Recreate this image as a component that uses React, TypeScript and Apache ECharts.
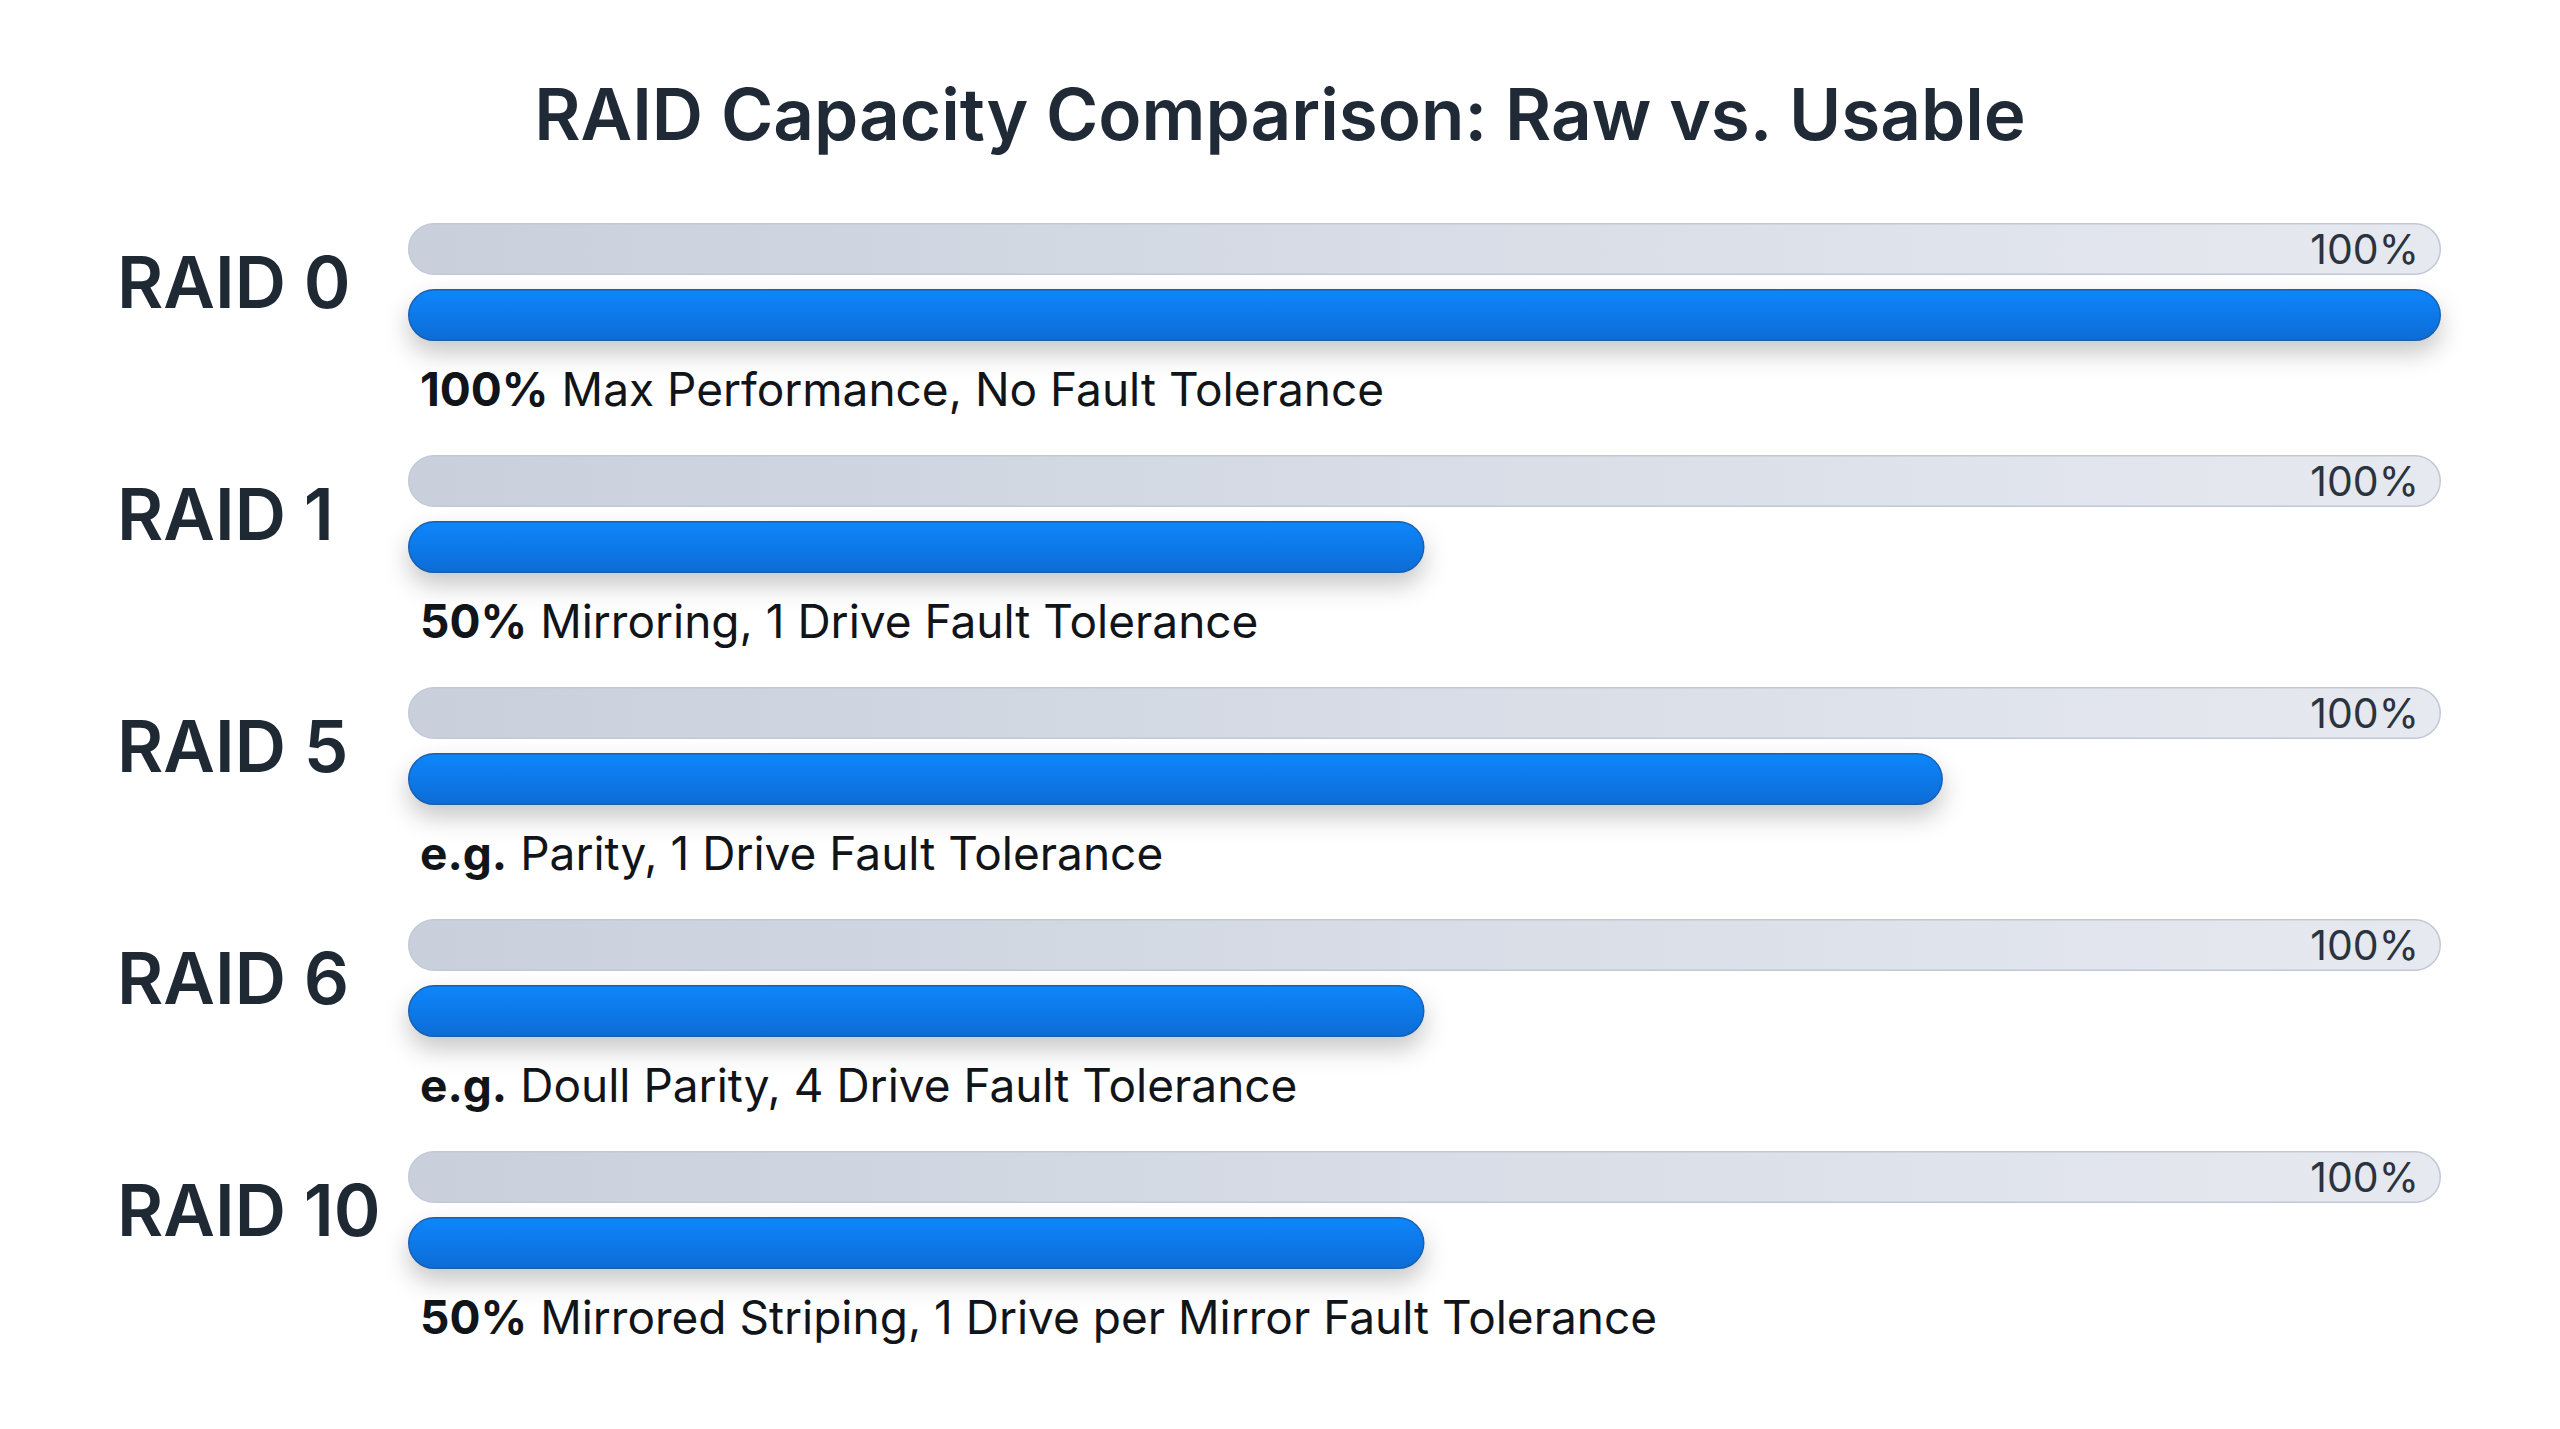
import React, { useEffect, useRef } from "react";
import * as echarts from "echarts";

const categories = ["RAID 0", "RAID 1", "RAID 5", "RAID 6", "RAID 10"];
const rawCapacity = [100, 100, 100, 100, 100];
const usableCapacity = [100, 50, 75.5, 50, 50];
const noteLead = ["100%", "50%", "e.g.", "e.g.", "50%"];
const noteText = [
  "Max Performance, No Fault Tolerance",
  "Mirroring, 1 Drive Fault Tolerance",
  "Parity, 1 Drive Fault Tolerance",
  "Doull Parity, 4 Drive Fault Tolerance",
  "Mirrored Striping, 1 Drive per Mirror Fault Tolerance",
];
const titleText = "RAID Capacity Comparison: Raw vs. Usable";

const FONT = "Inter, 'Noto Sans', sans-serif";

export default function App() {
  const ref = useRef<HTMLDivElement>(null);
  useEffect(() => {
    document.body.style.margin = "0";
    document.body.style.overflow = "hidden";
    if (!ref.current) return;
    const chart = echarts.init(ref.current, undefined, { renderer: "svg" });
    chart.setOption({
      animation: false,
      backgroundColor: "#ffffff",
      title: {
        text: titleText,
        left: "center",
        top: 66,
        textStyle: {
          fontFamily: FONT,
          fontSize: 71,
          fontWeight: 600,
          color: "#1f2a36",
          lineHeight: 86,
        },
      },
      grid: { left: 408, right: 119, top: 166, height: 1160 },
      xAxis: { type: "value", min: 0, max: 100, show: false },
      yAxis: {
        type: "category",
        data: categories,
        inverse: true,
        axisLine: { show: false },
        axisTick: { show: false },
        splitLine: { show: false },
        axisLabel: {
          align: "left",
          margin: 291,
          fontFamily: FONT,
          fontSize: 71,
          fontWeight: 600,
          color: "#1f2933",
        },
      },
      series: [
        {
          name: "Raw",
          type: "bar",
          data: rawCapacity,
          barWidth: 52,
          barGap: "27%",
          itemStyle: {
            borderRadius: 26,
            borderColor: "#c2c9d5",
            borderWidth: 1.5,
            color: new echarts.graphic.LinearGradient(0, 0, 1, 0, [
              { offset: 0, color: "#c9d0dc" },
              { offset: 1, color: "#e6e9f0" },
            ]),
          },
          label: {
            show: true,
            position: "insideRight",
            distance: 22,
            formatter: "{c}%",
            fontFamily: FONT,
            fontSize: 41,
            color: "#2b333d",
          },
        },
        {
          name: "Usable",
          type: "bar",
          data: usableCapacity,
          barWidth: 52,
          itemStyle: {
            borderRadius: 26,
            borderColor: "#1b5fb0",
            borderWidth: 1.5,
            color: new echarts.graphic.LinearGradient(0, 0, 0, 1, [
              { offset: 0, color: "#0a86fb" },
              { offset: 1, color: "#0a6cd6" },
            ]),
            shadowBlur: 24,
            shadowOffsetY: 12,
            shadowColor: "rgba(0,0,0,0.22)",
          },
          label: {
            show: true,
            position: [12, 100],
            align: "left",
            verticalAlign: "middle",
            formatter: (p: any) =>
              `{b|${noteLead[p.dataIndex]}}{r|${noteText[p.dataIndex]}}`,
            rich: {
              b: {
                fontFamily: FONT,
                fontSize: 46,
                fontWeight: 700,
                color: "#111418",
                padding: [0, 13, 0, 0],
              },
              r: {
                fontFamily: FONT,
                fontSize: 46,
                fontWeight: 400,
                color: "#111418",
              },
            },
          },
        },
      ],
    });
    return () => chart.dispose();
  }, []);
  return <div ref={ref} style={{ width: 2560, height: 1429 }} />;
}
